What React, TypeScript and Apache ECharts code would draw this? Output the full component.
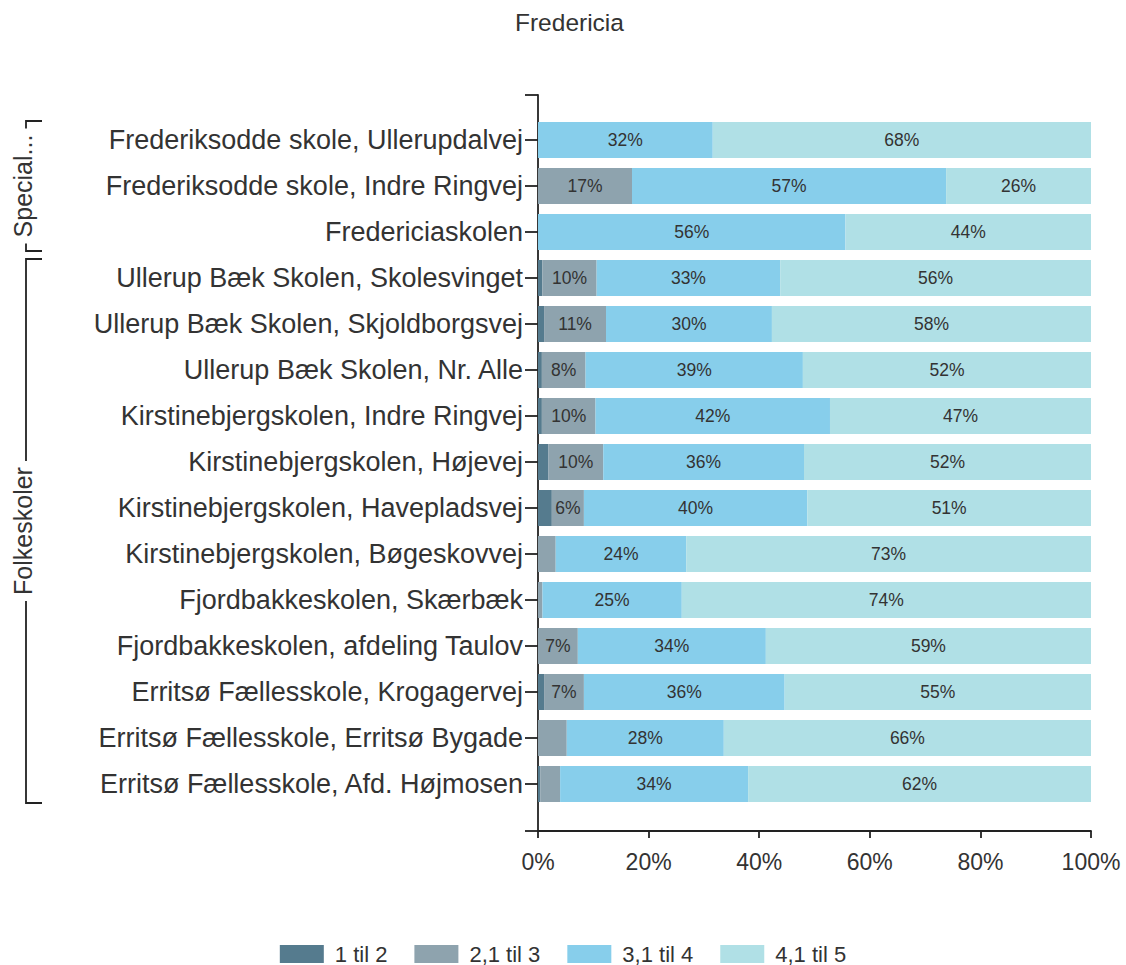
import React, { useEffect, useRef } from "react";
import * as echarts from "echarts";

const title = "Fredericia";
const categories = [
  "Frederiksodde skole, Ullerupdalvej",
  "Frederiksodde skole, Indre Ringvej",
  "Fredericiaskolen",
  "Ullerup Bæk Skolen, Skolesvinget",
  "Ullerup Bæk Skolen, Skjoldborgsvej",
  "Ullerup Bæk Skolen, Nr. Alle",
  "Kirstinebjergskolen, Indre Ringvej",
  "Kirstinebjergskolen, Højevej",
  "Kirstinebjergskolen, Havepladsvej",
  "Kirstinebjergskolen, Bøgeskovvej",
  "Fjordbakkeskolen, Skærbæk",
  "Fjordbakkeskolen, afdeling Taulov",
  "Erritsø Fællesskole, Krogagervej",
  "Erritsø Fællesskole, Erritsø Bygade",
  "Erritsø Fællesskole, Afd. Højmosen",
];
const seriesNames = ["1 til 2", "2,1 til 3", "3,1 til 4", "4,1 til 5"];
const s1til2 = [0, 0, 0, 0.8, 1.1, 0.7, 0.7, 1.9, 2.5, 0, 0, 0, 1.1, 0, 0.4];
const s21til3 = [0, 17, 0, 9.8, 11.2, 7.9, 9.7, 9.9, 5.8, 3.2, 0.8, 7.2, 7.2, 5.2, 3.6];
const s31til4 = [31.6, 56.8, 55.6, 33.2, 30.0, 39.3, 42.4, 36.3, 40.4, 23.6, 25.2, 34.0, 36.3, 28.4, 34.0];
const s41til5 = [68.4, 26.2, 44.4, 56.2, 57.7, 52.1, 47.2, 51.9, 51.3, 73.2, 74.0, 58.8, 55.4, 66.4, 62.0];
const groups = [
  { name: "Special...", first: 0, last: 2 },
  { name: "Folkeskoler", first: 3, last: 14 },
];
const xTicks = [0, 20, 40, 60, 80, 100];

const colors = ["#557b8e", "#8ea3ae", "#87ceeb", "#b0e0e6"];
const FONT = 'Arial, "Liberation Sans", sans-serif';
const TXT = "#333";
const AX = "#222";

export default function App() {
  const ref = useRef<HTMLDivElement>(null);
  useEffect(() => {
    document.body.style.margin = "0";
    const chart = echarts.init(ref.current!, null, { renderer: "svg" });
    const values = [s1til2, s21til3, s31til4, s41til5];
    const series = values.map((arr, i) => ({
      name: seriesNames[i],
      type: "bar",
      stack: "total",
      xAxisIndex: 1,
      yAxisIndex: 1,
      barWidth: 36,
      itemStyle: { color: colors[i] },
      label: {
        show: true,
        position: "inside",
        color: TXT,
        fontSize: 17.5,
        fontFamily: FONT,
        formatter: (p: any) => (p.value >= 5.5 ? Math.round(p.value) + "%" : ""),
      },
      data: arr,
    }));
    chart.setOption({
      animation: false,
      textStyle: { fontFamily: FONT },
      title: {
        text: title,
        left: 515,
        top: 10,
        padding: 0,
        textStyle: { fontSize: 24.5, fontWeight: "normal", color: TXT, fontFamily: FONT },
      },
      legend: {
        data: seriesNames,
        left: "center",
        top: 943,
        padding: 0,
        itemWidth: 44,
        itemHeight: 18,
        itemGap: 27,
        icon: "rect",
        textStyle: { fontSize: 22, color: TXT, fontFamily: FONT, padding: [0, 0, 0, 6] },
      },
      grid: [
        { left: 538, right: 35, top: 95, bottom: 134, outerBoundsMode: "none" },
        { left: 538, right: 35, top: 117, bottom: 158, outerBoundsMode: "none" },
      ],
      xAxis: [
        {
          gridIndex: 0,
          type: "value",
          min: xTicks[0],
          max: xTicks[xTicks.length - 1],
          interval: xTicks[1] - xTicks[0],
          axisLine: { show: true, lineStyle: { color: AX, width: 1.8 } },
          axisTick: { show: true, length: 7, lineStyle: { color: AX, width: 1.8 } },
          axisLabel: { formatter: "{value}%", fontSize: 23, color: TXT, margin: 19, fontFamily: FONT },
          splitLine: { show: false },
        },
        { gridIndex: 1, type: "value", min: 0, max: 100, show: false },
      ],
      yAxis: [
        {
          gridIndex: 0,
          type: "value",
          min: 0,
          max: 1,
          interval: 1,
          axisLine: { show: true, lineStyle: { color: AX, width: 1.8 } },
          axisTick: { show: true, length: 13, lineStyle: { color: AX, width: 1.8 } },
          axisLabel: { show: false },
          splitLine: { show: false },
        },
        {
          gridIndex: 1,
          type: "category",
          inverse: true,
          data: categories,
          axisLine: { show: false },
          axisTick: { show: true, alignWithLabel: true, length: 13, lineStyle: { color: AX, width: 1.8 } },
          axisLabel: { fontSize: 27, color: TXT, margin: 15, fontFamily: FONT },
          splitLine: { show: false },
        },
      ],
      series,
    });

    // group brackets derived from the category axis positions
    const half = 23;
    const graphics: any[] = [];
    groups.forEach((g) => {
      const y0 = (chart.convertToPixel({ yAxisIndex: 1 } as any, categories[g.first]) as number) - half + 4;
      const y1 = (chart.convertToPixel({ yAxisIndex: 1 } as any, categories[g.last]) as number) + half - 4;
      graphics.push({
        type: "polyline",
        z: 10,
        shape: { points: [[42, y0], [26, y0], [26, y1], [42, y1]] },
        style: { stroke: AX, lineWidth: 1.8, fill: null },
      });
      graphics.push({
        type: "text",
        z: 11,
        x: 23,
        y: (y0 + y1) / 2,
        rotation: Math.PI / 2,
        style: {
          text: g.name,
          fontSize: 25,
          fontFamily: FONT,
          fill: TXT,
          align: "center",
          verticalAlign: "middle",
          backgroundColor: "#fff",
          padding: [0, 6],
        },
      });
    });
    chart.setOption({ graphic: graphics });
    return () => chart.dispose();
  }, []);
  return <div ref={ref} style={{ width: 1126, height: 965 }} />;
}
